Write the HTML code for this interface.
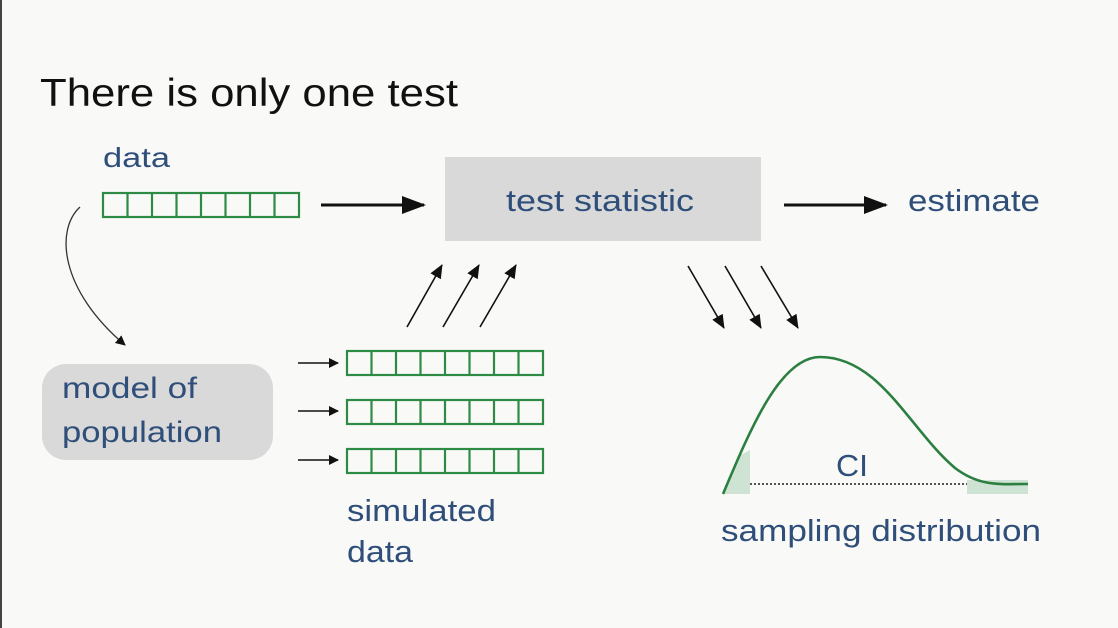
<!DOCTYPE html>
<html><head><style>
body{margin:0;background:#f9f9f7;}
svg{display:block}
text{font-family:"Liberation Sans",sans-serif;}
</style></head><body>
<svg width="1118" height="628" viewBox="0 0 1118 628">
<defs>
<marker id="a" markerWidth="10" markerHeight="10" refX="9" refY="5" orient="auto" markerUnits="userSpaceOnUse"><path d="M0,0 L10,5 L0,10 z" fill="#111"/></marker>
<marker id="b" markerWidth="24" markerHeight="18" refX="22" refY="9" orient="auto" markerUnits="userSpaceOnUse"><path d="M0,0 L24,9 L0,18 z" fill="#111"/></marker>
<marker id="c" markerWidth="14" markerHeight="12" refX="13" refY="6" orient="auto" markerUnits="userSpaceOnUse"><path d="M0,0 L14,6 L0,12 z" fill="#111"/></marker>
<g id="row" fill="none" stroke="#2e8b45" stroke-width="2.2">
<rect x="0" y="0" width="196" height="24"/>
<line x1="24.5" y1="0" x2="24.5" y2="24"/><line x1="49" y1="0" x2="49" y2="24"/><line x1="73.5" y1="0" x2="73.5" y2="24"/><line x1="98" y1="0" x2="98" y2="24"/><line x1="122.5" y1="0" x2="122.5" y2="24"/><line x1="147" y1="0" x2="147" y2="24"/><line x1="171.5" y1="0" x2="171.5" y2="24"/>
</g>
</defs>
<rect x="0" y="0" width="2" height="628" fill="#444"/>
<text x="40" y="106" font-size="39" fill="#111" textLength="418" lengthAdjust="spacingAndGlyphs">There is only one test</text>
<text x="103" y="167" font-size="28" fill="#2f4f7a" textLength="67" lengthAdjust="spacingAndGlyphs">data</text>
<use href="#row" x="103" y="193"/>
<line x1="321" y1="205" x2="424" y2="205" stroke="#111" stroke-width="3" marker-end="url(#b)"/>
<rect x="445" y="157" width="316" height="84" fill="#d9d9d9"/>
<text x="506" y="211" font-size="31" fill="#2f4f7a" textLength="188" lengthAdjust="spacingAndGlyphs">test statistic</text>
<line x1="784" y1="205" x2="886" y2="205" stroke="#111" stroke-width="3" marker-end="url(#b)"/>
<text x="908" y="211" font-size="31" fill="#2f4f7a" textLength="132" lengthAdjust="spacingAndGlyphs">estimate</text>
<path d="M80,207 C55,230 60,290 125,345" fill="none" stroke="#333" stroke-width="1.3" marker-end="url(#a)"/>
<rect x="42" y="364" width="231" height="96" rx="24" fill="#d9d9d9"/>
<text x="62" y="398" font-size="30" fill="#2f4f7a" textLength="135" lengthAdjust="spacingAndGlyphs">model of</text>
<text x="62" y="442" font-size="30" fill="#2f4f7a" textLength="160" lengthAdjust="spacingAndGlyphs">population</text>
<g stroke="#111" stroke-width="1.6">
<line x1="298" y1="363" x2="338" y2="363" marker-end="url(#a)"/>
<line x1="298" y1="411" x2="338" y2="411" marker-end="url(#a)"/>
<line x1="298" y1="460" x2="338" y2="460" marker-end="url(#a)"/>
<line x1="407" y1="327" x2="442" y2="265" marker-end="url(#c)"/>
<line x1="443" y1="327" x2="479" y2="265" marker-end="url(#c)"/>
<line x1="480" y1="327" x2="516" y2="265" marker-end="url(#c)"/>
<line x1="688" y1="266" x2="724" y2="328" marker-end="url(#c)"/>
<line x1="725" y1="266" x2="761" y2="328" marker-end="url(#c)"/>
<line x1="761" y1="266" x2="798" y2="328" marker-end="url(#c)"/>
</g>
<use href="#row" x="347" y="351"/>
<use href="#row" x="347" y="400"/>
<use href="#row" x="347" y="449"/>
<text x="347" y="521" font-size="31" fill="#2f4f7a" textLength="149" lengthAdjust="spacingAndGlyphs">simulated</text>
<text x="347" y="562" font-size="31" fill="#2f4f7a" textLength="66" lengthAdjust="spacingAndGlyphs">data</text>
<path d="M723,494 L739,456 L750,450 L750,494 z" fill="#cfe3d4"/>
<rect x="967" y="480" width="61" height="14" fill="#cfe3d4"/>
<path d="M723,494 C750,430 780,357 820,357 C880,357 910,430 955,468 C980,487 1000,484 1028,484" fill="none" stroke="#2b7f40" stroke-width="2.6"/>
<line x1="750" y1="484" x2="967" y2="484" stroke="#555" stroke-width="2" stroke-dasharray="2,2"/>
<text x="836" y="476" font-size="31" fill="#2f4f7a" textLength="32" lengthAdjust="spacingAndGlyphs">CI</text>
<text x="721" y="541" font-size="31" fill="#2f4f7a" textLength="320" lengthAdjust="spacingAndGlyphs">sampling distribution</text>
</svg>
</body></html>
